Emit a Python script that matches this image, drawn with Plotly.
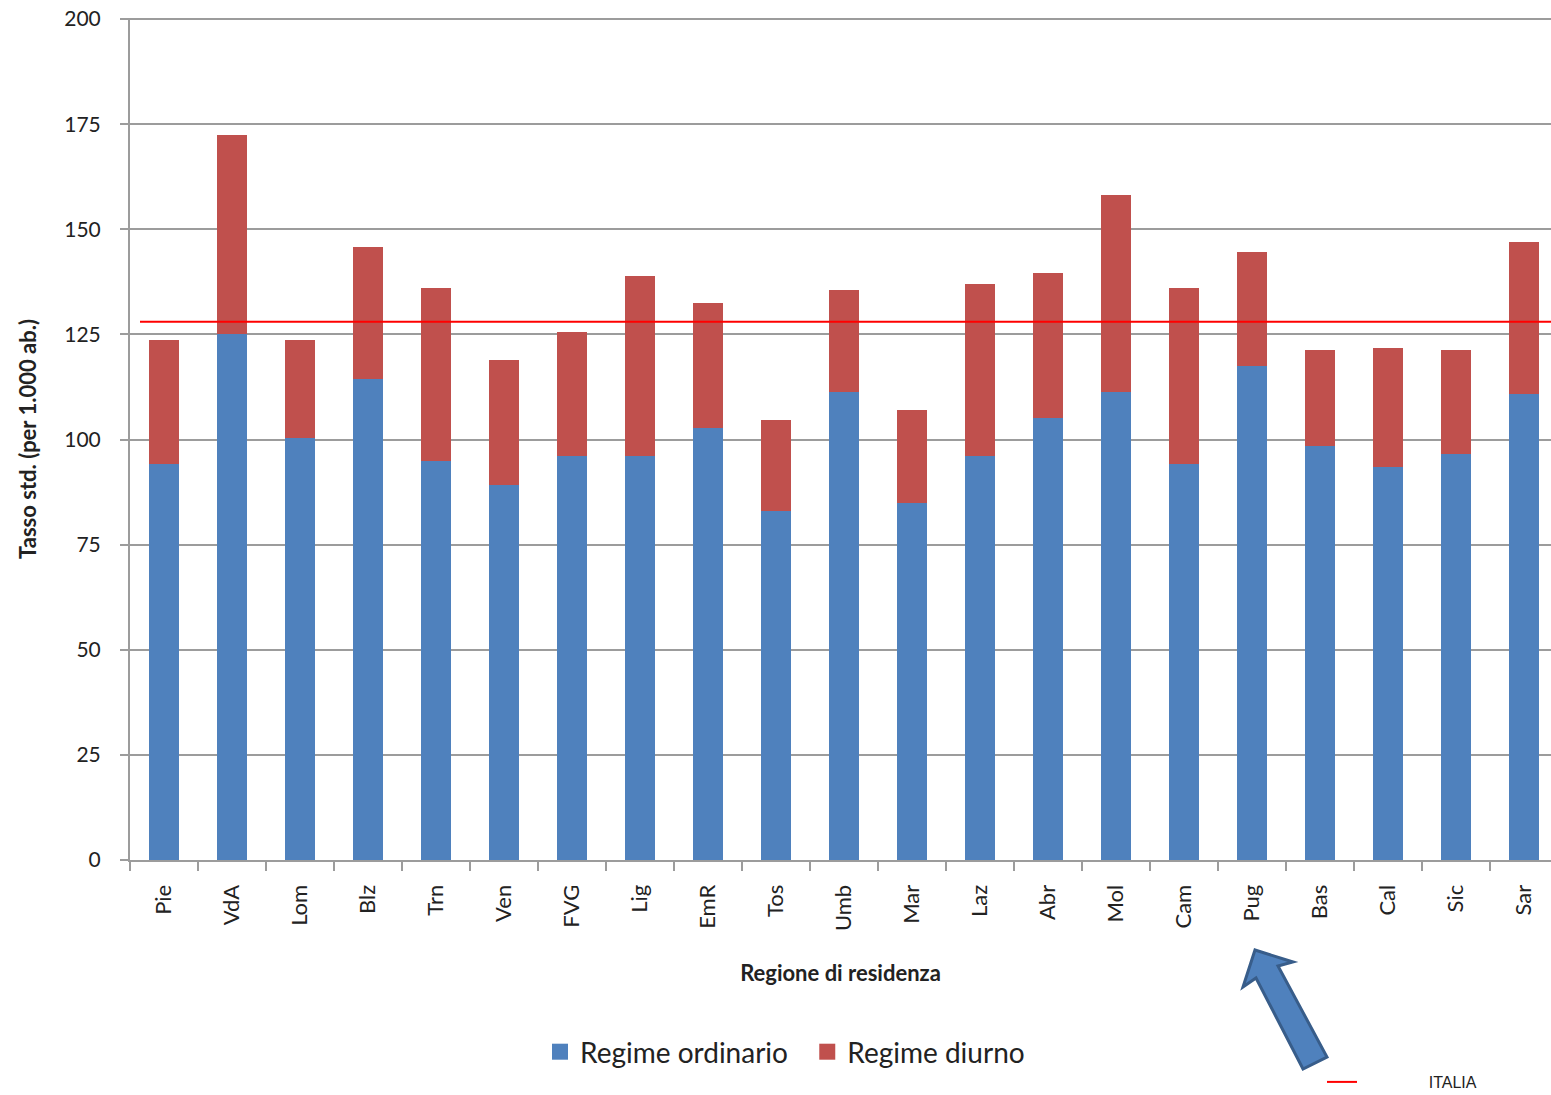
import plotly.graph_objects as go

regions = ["Pie", "VdA", "Lom", "Blz", "Trn", "Ven", "FVG", "Lig", "EmR", "Tos", "Umb",
           "Mar", "Laz", "Abr", "Mol", "Cam", "Pug", "Bas", "Cal", "Sic", "Sar"]
ordinario = [94.2, 125.2, 100.3, 114.5, 94.8, 89.1, 96.0, 96.0, 102.8, 82.9, 111.4,
             84.8, 96.0, 105.2, 111.4, 94.1, 117.6, 98.4, 93.5, 96.6, 110.8]
totale = [123.7, 172.4, 123.7, 145.8, 136.1, 118.9, 125.6, 139.0, 132.5, 104.6, 135.5,
          107.1, 137.1, 139.6, 158.1, 136.0, 144.5, 121.3, 121.8, 121.3, 147.0]
diurno = [round(t - o, 1) for t, o in zip(totale, ordinario)]
italia = 128
y_ticks = [0, 25, 50, 75, 100, 125, 150, 175, 200]

BLUE = "#4F81BD"
RED = "#C0504D"
GRID = "#9C9C9C"
FONT = "Lato"
TXT = "#222222"

# the page's default body margin is removed (post_script), so figure = window
W, H = 1551, 1095
PX_L, PX_R, PX_T, PX_B = 130, 1551, 18, 860     # plot area in screen pixels
L, T = PX_L, PX_T
PW, PH = PX_R - PX_L, PX_B - PX_T
R, B = W - L - PW, H - T - PH
Y_MAX = 200.25   # tiny headroom so the 200 grid line is drawn

def px(xs, ys):
    """screen pixel -> paper coordinates"""
    return (xs - PX_L) / PW, (PX_B - ys) / PH

fig = go.Figure()
fig.add_trace(go.Bar(x=regions, y=ordinario, name="Regime ordinario", marker_color=BLUE,
                     marker_line_width=0, width=0.44, showlegend=False))
fig.add_trace(go.Bar(x=regions, y=diurno, name="Regime diurno", marker_color=RED,
                     marker_line_width=0, width=0.44, showlegend=False))
# legend entries (larger square keys as in the original)
fig.add_trace(go.Scatter(x=[None], y=[None], mode="markers",
                         name="Regime ordinario" + "\u00a0" * 2,
                         marker=dict(symbol="square", size=18, color=BLUE), legend="legend"))
fig.add_trace(go.Scatter(x=[None], y=[None], mode="markers", name="Regime diurno",
                         marker=dict(symbol="square", size=18, color=RED), legend="legend"))
fig.add_trace(go.Scatter(x=[None], y=[None], mode="lines",
                         name="\u00a0" * 15 + "ITALIA",
                         line=dict(color="#FF0000", width=2), legend="legend2"))

fig.add_hline(y=italia, line=dict(color="#FF0000", width=2), x0=px(140, 0)[0], x1=1)

# decorative arrow pointing at Pug
arrow_pts = [(1255, 950), (1293, 962), (1278, 966), (1327, 1057), (1303, 1069),
             (1256, 978), (1243, 987)]
path = "M " + " L ".join(f"{px(a, b)[0]:.5f},{px(a, b)[1]:.5f}" for a, b in arrow_pts) + " Z"
fig.add_shape(type="path", path=path, xref="paper", yref="paper",
              fillcolor=BLUE, line=dict(color="#385D8A", width=3), layer="above")

fig.update_layout(
    width=W, height=H,
    margin=dict(l=L, r=R, t=T, b=B, autoexpand=False),
    barmode="stack",
    plot_bgcolor="white", paper_bgcolor="white",
    font=dict(family=FONT, color=TXT),
    showlegend=True,
    legend=dict(orientation="h", x=px(785, 0)[0], xanchor="center", y=px(0, 1052)[1],
                yanchor="middle", font=dict(size=28, family=FONT, color=TXT),
                traceorder="normal", itemwidth=30, tracegroupgap=0,
                bgcolor="rgba(0,0,0,0)"),
    legend2=dict(orientation="h", x=px(1322, 0)[0], xanchor="left", y=px(0, 1082)[1],
                 yanchor="middle", font=dict(size=16, family="Liberation Sans", color=TXT),
                 itemwidth=30, bgcolor="rgba(0,0,0,0)"),
    xaxis=dict(
        range=[-0.5, -0.5 + PW / 68.0],
        showgrid=False, showline=True, linecolor=GRID, linewidth=2,
        ticks="outside", ticklen=9, tickcolor=GRID, tickwidth=2,
        tickson="boundaries", tickangle=-90,
        tickfont=dict(size=22, family=FONT, color=TXT),
        ticklabelstandoff=14,
        title=dict(text="<b>Regione di residenza</b>", font=dict(size=22, family=FONT, color=TXT),
                   standoff=36),
    ),
    yaxis=dict(
        range=[0, Y_MAX], tickvals=y_ticks,
        showgrid=True, gridcolor=GRID, gridwidth=2,
        showline=True, linecolor=GRID, linewidth=2,
        ticks="outside", ticklen=8, tickcolor=GRID, tickwidth=2,
        tickfont=dict(size=21, family=FONT, color=TXT),
        ticklabelstandoff=15, ticklabeloverflow="allow",
        title=dict(text="<b>Tasso std. (per 1.000 ab.)</b>", font=dict(size=22, family=FONT, color=TXT),
                   standoff=22),
    ),
)

fig.write_html("out.html",
               config={"displayModeBar": False},
               post_script="document.body.style.margin='0px';document.body.style.overflow='hidden';")
